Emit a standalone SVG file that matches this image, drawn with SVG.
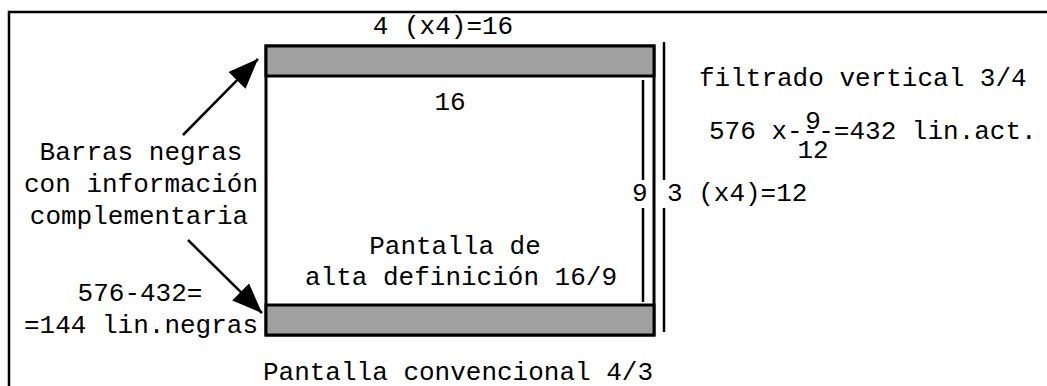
<svg xmlns="http://www.w3.org/2000/svg" width="1047" height="386" viewBox="0 0 1047 386">
<style>
text{font-family:"Liberation Mono","Courier New",monospace;font-size:26px;fill:#000}
.c{text-anchor:middle}
.ln{stroke:#000;stroke-width:2.5;fill:none}
.bar{fill:#a0a0a0;stroke:#000;stroke-width:3}
</style>
<defs>
<marker id="ah" viewBox="0 0 30 24" refX="30" refY="12" markerWidth="30" markerHeight="24" markerUnits="userSpaceOnUse" orient="auto">
<path d="M0,0 L30,12 L0,24 Z" fill="#000"/>
</marker>
</defs>
<rect x="0" y="0" width="1047" height="386" fill="#fff"/>
<path d="M9,400 L9,12 L1060,12" class="ln"/>
<g id="screen43">
<rect x="266" y="46" width="388" height="289" fill="#fff" stroke="#000" stroke-width="3"/>
<rect id="barTop" x="266" y="46" width="388" height="30" class="bar"/>
<rect id="barBottom" x="266" y="305" width="388" height="30" class="bar"/>
<text x="443" y="34" class="c">4 (x4)=16</text>
<text x="450" y="110" class="c">16</text>
<text x="455" y="254" class="c">Pantalla de</text>
<text x="461" y="285" class="c">alta definición 16/9</text>
<text x="458" y="380" class="c">Pantalla convencional 4/3</text>
</g>
<g id="dims">
<path d="M643,80 V180 M643,208 V302" class="ln"/>
<path d="M664,42 V180 M664,208 V332" class="ln"/>
<text x="632" y="201">9</text>
<text x="667" y="201">3 (x4)=12</text>
<text x="699" y="86">filtrado vertical 3/4</text>
<text x="709" y="139">576 x---=432 lin.act.</text>
<text x="813" y="129" class="c">9</text>
<text x="813" y="158" class="c">12</text>
</g>
<g id="labels">
<text x="141" y="160" class="c">Barras negras</text>
<text x="141" y="192" class="c">con información</text>
<text x="139" y="224" class="c">complementaria</text>
<text x="140" y="301" class="c">576-432=</text>
<text x="141" y="333" class="c">=144 lin.negras</text>
</g>
<g id="connectors">
<line x1="183" y1="135" x2="258" y2="59" class="ln" marker-end="url(#ah)"/>
<line x1="188" y1="240" x2="262" y2="313" class="ln" marker-end="url(#ah)"/>
</g>
</svg>
